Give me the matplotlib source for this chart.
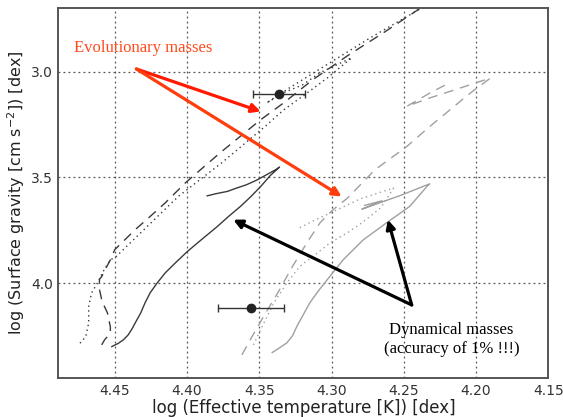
import matplotlib
matplotlib.use("Agg")
import matplotlib.pyplot as plt

# tracks: log Teff, log g
dark_dash_t = [4.459, 4.457, 4.4545, 4.453, 4.453, 4.455, 4.457, 4.459, 4.460, 4.461, 4.4604, 4.459, 4.456, 4.453, 4.450,
               4.443, 4.436, 4.428, 4.415, 4.401, 4.377, 4.349, 4.333, 4.313, 4.288, 4.263, 4.235]
dark_dash_g = [4.292, 4.268, 4.249, 4.231, 4.207, 4.141, 4.112, 4.079, 4.046, 4.018, 3.980, 3.969, 3.928, 3.890, 3.842,
               3.795, 3.748, 3.700, 3.620, 3.525, 3.383, 3.227, 3.147, 3.038, 2.920, 2.811, 2.683]

dark_dot_t = [4.474, 4.470, 4.469, 4.468, 4.468, 4.466, 4.462, 4.458, 4.453, 4.449, 4.406, 4.376, 4.346, 4.333, 4.317, 4.303, 4.286,
              4.308, 4.320, 4.333, 4.345, 4.329, 4.300, 4.273, 4.235]
dark_dot_g = [4.284, 4.253, 4.221, 4.188, 4.111, 4.046, 4.000, 3.945, 3.890, 3.874, 3.590, 3.431, 3.259, 3.180, 3.101, 3.030, 2.934,
              3.005, 3.062, 3.099, 3.148, 3.076, 2.953, 2.839, 2.688]

dark_solid_t = [4.452, 4.4476, 4.444, 4.4407, 4.438, 4.435, 4.432, 4.429, 4.4255, 4.4206, 4.415, 4.408, 4.400, 4.391,
                4.379, 4.3715, 4.363, 4.356, 4.349, 4.3425, 4.336,
                4.338, 4.345, 4.352, 4.359, 4.366, 4.372, 4.380, 4.386]
dark_solid_g = [4.300, 4.285, 4.268, 4.245, 4.216, 4.178, 4.141, 4.093, 4.046, 3.999, 3.951, 3.904, 3.852, 3.800,
                3.732, 3.686, 3.637, 3.592, 3.543, 3.492, 3.451,
                3.461, 3.4875, 3.5135, 3.535, 3.551, 3.566, 3.577, 3.587]

light_dash_t = [4.362, 4.355, 4.347, 4.336, 4.327, 4.317, 4.308, 4.299, 4.289, 4.270, 4.248, 4.232, 4.218, 4.204, 4.190,
                4.1995, 4.218, 4.232, 4.248, 4.240, 4.232, 4.220]
light_dash_g = [4.339, 4.253, 4.158, 4.032, 3.921, 3.809, 3.715, 3.653, 3.598, 3.464, 3.354, 3.259, 3.180, 3.101, 3.030,
                3.051, 3.093, 3.124, 3.164, 3.1325, 3.101, 3.058]

light_dot_t = [4.354, 4.348, 4.340, 4.331, 4.322, 4.310, 4.301, 4.289, 4.278, 4.266, 4.257, 4.280, 4.301, 4.311, 4.322]
light_dot_g = [4.292, 4.205, 4.095, 4.000, 3.921, 3.858, 3.809, 3.762, 3.710, 3.644, 3.550, 3.601, 3.669, 3.700, 3.738]

light_solid_t = [4.341, 4.336, 4.331, 4.327, 4.324, 4.3196, 4.315, 4.309, 4.303, 4.292, 4.278, 4.262, 4.246, 4.234, 4.232,
                 4.253, 4.279, 4.265, 4.277]
light_solid_g = [4.328, 4.306, 4.283, 4.249, 4.205, 4.150, 4.093, 4.036, 3.984, 3.890, 3.795, 3.715, 3.6375, 3.543, 3.530,
                 3.587, 3.650, 3.6105, 3.632]

# observed components
obs_t = [4.336, 4.3556]
obs_g = [3.104, 4.118]
obs_terr = [0.018, 0.023]

fig = plt.figure(figsize=(5.63, 4.17), dpi=100)
ax = fig.add_axes([0.1036, 0.0928, 0.8703, 0.8873])

dark = "#3a3a3a"
light = "#a0a0a0"
ax.plot(dark_dash_t, dark_dash_g, color=dark, lw=1.0, dashes=(7, 5))
ax.plot(dark_dot_t, dark_dot_g, color=dark, lw=1.0, dashes=(1, 2.5))
ax.plot(dark_solid_t, dark_solid_g, color=dark, lw=1.0)
ax.plot(light_dash_t, light_dash_g, color=light, lw=1.0, dashes=(7, 5))
ax.plot(light_dot_t, light_dot_g, color=light, lw=1.0, dashes=(1, 2.5))
ax.plot(light_solid_t, light_solid_g, color=light, lw=1.0)

ax.errorbar(obs_t, obs_g, xerr=obs_terr, fmt="o", color="#222222", ecolor="#333333",
            ms=6, elinewidth=1.0, capsize=3, capthick=1.0)

ax.set_xlim(4.489, 4.15)
ax.set_ylim(4.45, 2.70)
ax.set_xticks([4.45, 4.40, 4.35, 4.30, 4.25, 4.20, 4.15])
ax.set_yticks([3.0, 3.5, 4.0])
ax.grid(True, color="#555555", linestyle=(0, (1.5, 2.5)), lw=0.9)
ax.tick_params(direction="in", length=0, labelsize=10, colors="#333333", pad=4)
for s in ax.spines.values():
    s.set_color("#555555")
    s.set_linewidth(1.4)

ax.set_xlabel("log (Effective temperature [K]) [dex]", fontsize=12, color="#222222", labelpad=1)
ax.set_ylabel("log (Surface gravity [cm s$^{-2}$]) [dex]", fontsize=11.5, color="#222222", labelpad=3)

serif = "Liberation Serif"
ax.text(4.430, 2.886, "Evolutionary masses", color="#ff4a1c", fontsize=12, family=serif,
        ha="center", va="center")
red_kw = dict(arrowstyle="-|>", lw=2.3, mutation_scale=13, shrinkA=0, shrinkB=0)
ax.annotate("", xy=(4.349, 3.188), xytext=(4.435, 2.987),
            arrowprops=dict(color="#ff1a00", **red_kw))
ax.annotate("", xy=(4.293, 3.590), xytext=(4.435, 2.987),
            arrowprops=dict(color="#ff3d0d", **red_kw))

ax.text(4.217, 4.268, "Dynamical masses\n(accuracy of 1% !!!)", color="black", fontsize=12,
        family=serif, ha="center", va="center", linespacing=1.25)
blk_kw = dict(arrowstyle="-|>", lw=2.3, mutation_scale=13, shrinkA=0, shrinkB=0, color="black")
ax.annotate("", xy=(4.261, 3.700), xytext=(4.2445, 4.103), arrowprops=blk_kw)
ax.annotate("", xy=(4.368, 3.700), xytext=(4.2445, 4.103), arrowprops=blk_kw)

fig.savefig("out.png", dpi=100)
